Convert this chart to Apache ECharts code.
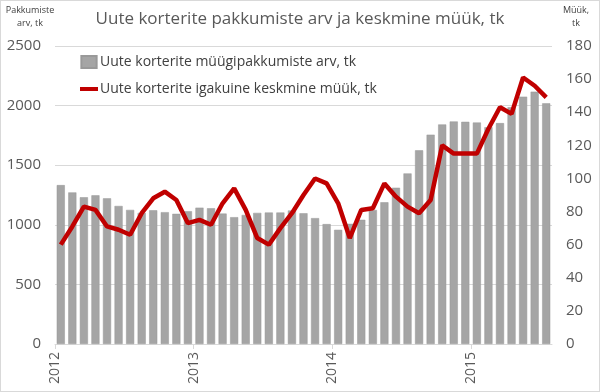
<!DOCTYPE html>
<html><head><meta charset="utf-8">
<script src="https://cdn.jsdelivr.net/npm/echarts@6/dist/echarts.min.js"></script>
<style>html,body{margin:0;padding:0;background:#fff}#c{width:600px;height:392px;box-sizing:border-box;border:1px solid #d9d9d9}</style>
</head><body><div id="c"></div>
<script>
var years = [2012, 2013, 2014, 2015];
var months = ['01','02','03','04','05','06','07','08','09','10','11','12'];
var categories = [];
years.forEach(function(y){ months.forEach(function(m){ categories.push(y + '-' + m); }); });
categories = categories.slice(0, 43);

var offers = [1333,1272,1231,1247,1222,1158,1125,1100,1122,1106,1092,1114,
              1144,1139,1094,1064,1083,1100,1103,1103,1120,1097,1056,1006,
              958,1008,1042,1125,1189,1311,1431,1625,1756,1842,1867,1864,
              1858,1819,1853,1986,2075,2117,2019];
var sales = [60,71,83,81,71,69,66,79,88,92,87,73,
             75,72,85,94,81,64,60,70,79,90,100,97,
             85,64,81,82,97,89,83,79,87,120,115,115,
             115,130,143,139,161,156,149];
var leftTicks = [0,500,1000,1500,2000,2500];
var rightTicks = [0,20,40,60,80,100,120,140,160,180];

var chart = echarts.init(document.getElementById('c'), null, {renderer:'canvas'});
var lab = {color:'#595959', fontSize:15, fontFamily:'Open Sans, Liberation Sans, sans-serif'};
chart.setOption({
  animation:false,
  textStyle:{fontFamily:'Open Sans, Liberation Sans, sans-serif'},
  title:{text:'Uute korterite pakkumiste arv ja keskmine müük, tk', left:'center', top:5,
    textStyle:{color:'#595959', fontSize:17, fontWeight:'normal'}},
  legend:{orient:'vertical', left:74, top:49, itemGap:13, itemWidth:18, itemHeight:12,
    textStyle:{color:'#404040', fontSize:14, padding:[0,0,0,-3]},
    data:[{name:'Uute korterite müügipakkumiste arv, tk', icon:'path://M2,0h14v11h-14z'},
          {name:'Uute korterite igakuine keskmine müük, tk', icon:'path://M0,0h20v4.5h-20z'}]},
  grid:{left:54, right:47, top:45, bottom:47},
  xAxis:[
    {type:'category', data:categories, boundaryGap:true,
     axisLine:{show:false}, axisTick:{show:false}, axisLabel:{show:false}},
    {type:'value', min:0, max:43, interval:12, position:'bottom',
     axisLine:{show:true, onZero:false, lineStyle:{color:'#d9d9d9'}},
     axisTick:{show:true, length:5, lineStyle:{color:'#d9d9d9'}},
     splitLine:{show:false},
     axisLabel:{rotate:90, margin:8, color:'#595959', fontSize:14, showMaxLabel:false,
       formatter:function(v){ return (v % 12 === 0 && v < 43) ? String(years[v/12]) : ''; }}}
  ],
  yAxis:[
    {type:'value', min:0, max:2500, interval:500, name:'Pakkumiste\narv, tk',
     nameLocation:'end', nameGap:16, nameTextStyle:{color:'#404040', fontSize:9, lineHeight:13, align:'center', padding:[0,50,0,0]},
     axisLine:{show:false}, axisTick:{show:false},
     axisLabel:Object.assign({margin:14, formatter:function(v){return leftTicks.indexOf(v)>=0?String(v):'';}}, lab),
     splitLine:{lineStyle:{color:'#d9d9d9'}}},
    {type:'value', min:0, max:180, interval:20, name:'Müük,\ntk', position:'right',
     nameLocation:'end', nameGap:16, nameTextStyle:{color:'#404040', fontSize:9, lineHeight:13, align:'center', padding:[0,0,0,48]},
     axisLine:{show:false}, axisTick:{show:false},
     axisLabel:Object.assign({margin:14, formatter:function(v){return rightTicks.indexOf(v)>=0?String(v):'';}}, lab),
     splitLine:{show:false}}
  ],
  series:[
    {name:'Uute korterite müügipakkumiste arv, tk', type:'bar', xAxisIndex:0, yAxisIndex:0,
     data:offers, barCategoryGap:'30%',
     itemStyle:{color:'#a5a5a5', borderColor:'#999999', borderWidth:0.5}},
    {name:'Uute korterite igakuine keskmine müük, tk', type:'line', xAxisIndex:0, yAxisIndex:1,
     data:sales, symbol:'none', lineStyle:{color:'#c00000', width:4.5}, itemStyle:{color:'#c00000'}}
  ]
});
</script></body></html>
